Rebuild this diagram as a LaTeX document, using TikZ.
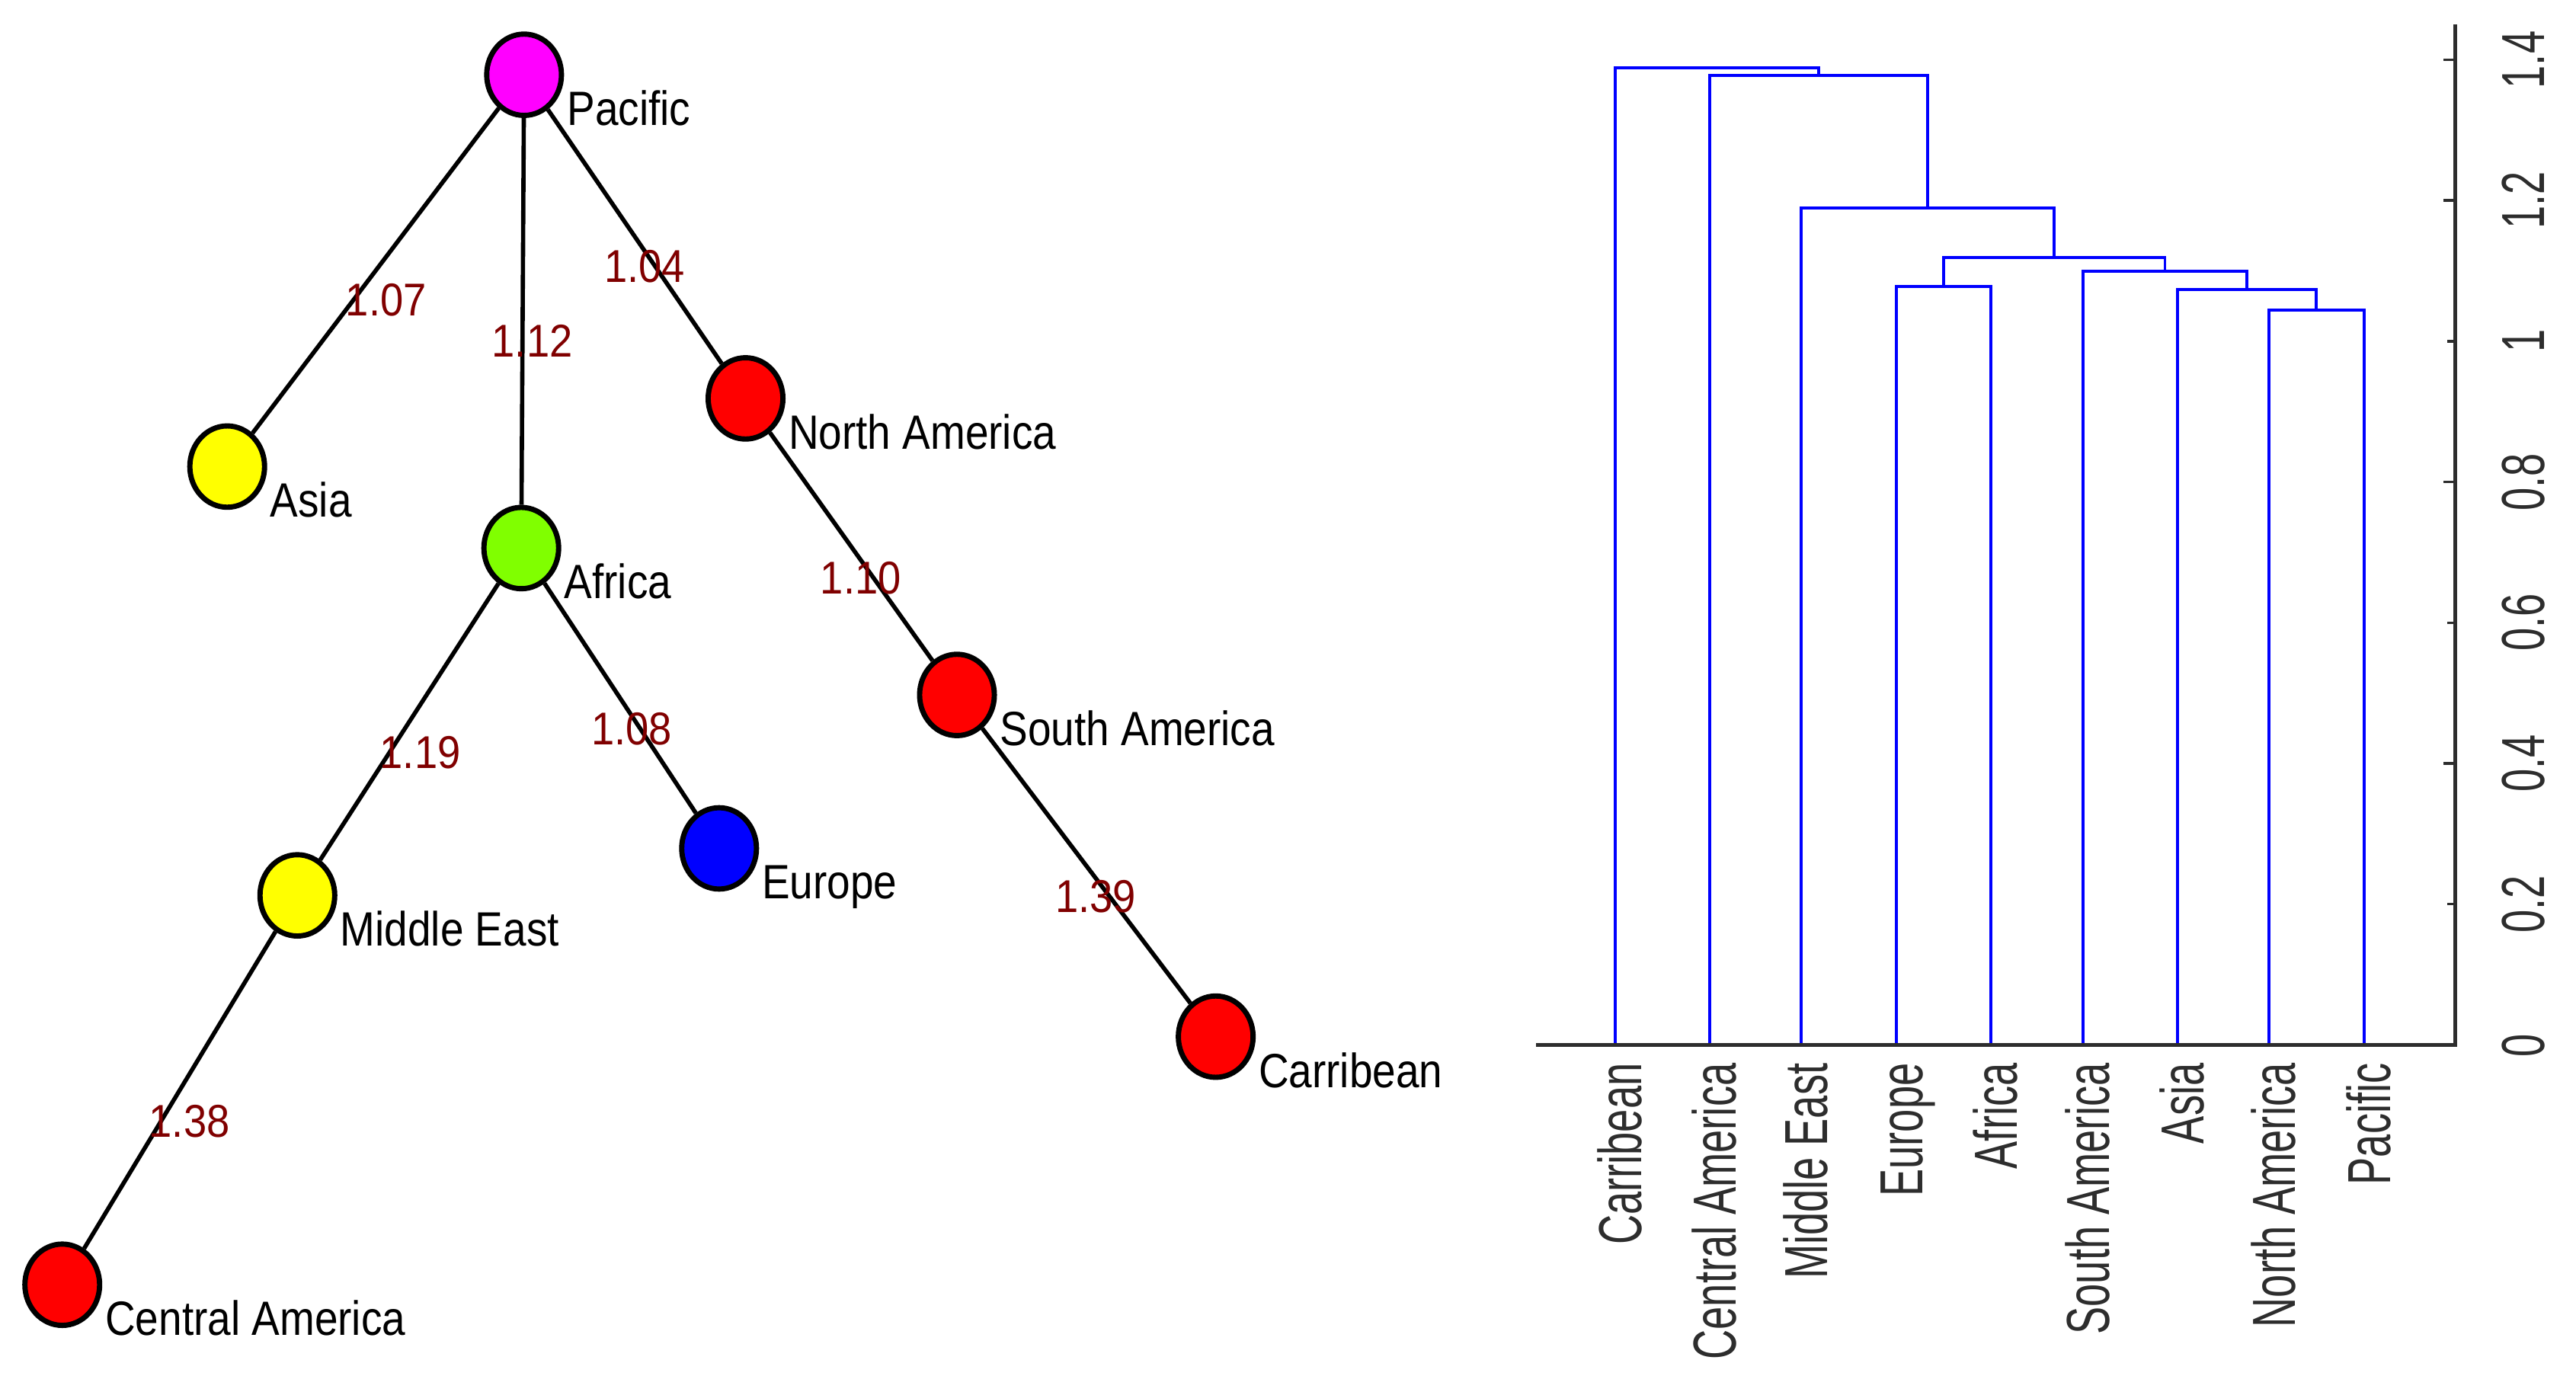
\documentclass[tikz,border=0pt]{standalone}
\usepackage{fontspec}
\setmainfont{Liberation Sans}
\newfontfamily\labfont[FakeStretch=0.87]{Liberation Sans}
\newfontfamily\numfont[FakeStretch=0.9]{Liberation Sans}
\newfontfamily\axfont[FakeStretch=0.68]{Liberation Sans}
\usetikzlibrary{shapes.geometric}
\definecolor{edgered}{RGB}{128,0,0}
\definecolor{axgray}{RGB}{45,45,45}
\definecolor{nmag}{RGB}{255,0,255}
\definecolor{nyel}{RGB}{255,255,0}
\definecolor{ngreen}{RGB}{128,255,0}
\definecolor{nred}{RGB}{255,0,0}
\definecolor{nblue}{RGB}{0,0,255}
\begin{document}
\begin{tikzpicture}[x=1pt,y=-1pt,
  region/.style={ellipse, draw=black, line width=3.2pt, minimum width=45.5pt, minimum height=49.5pt, inner sep=0pt},
  link/.style={draw=black, line width=2.6pt},
  lab/.style={font=\labfont\fontsize{29.3}{35}\selectfont, inner sep=0pt, anchor=base west, xshift=26pt, yshift=-30.8pt},
  wlab/.style={font=\numfont\fontsize{28}{33}\selectfont, text=edgered, inner sep=0pt},
  dend/.style={draw=nblue, line width=1.8pt},
  axline/.style={draw=axgray, line width=2pt},
  ticklong/.style={draw=axgray, line width=1.6pt},
  ticklab/.style={font=\axfont\fontsize{37}{40}\selectfont, text=axgray, rotate=90, anchor=base, inner sep=0pt},
  leaflab/.style={font=\axfont\fontsize{37}{40}\selectfont, text=axgray, rotate=90, anchor=base east, inner sep=0pt}]
\useasboundingbox (0,0) rectangle (1568,847);

% ---- left graph ----
\node[region, fill=nmag]   (pac)  at (319,45.5) {};
\node[region, fill=nyel]   (asia) at (138.3,284) {};
\node[region, fill=ngreen] (afr)  at (317.3,333.6) {};
\node[region, fill=nred]   (nam)  at (453.8,242.5) {};
\node[region, fill=nred]   (sam)  at (582.5,423) {};
\node[region, fill=nblue]  (eur)  at (437.7,516.4) {};
\node[region, fill=nyel]   (mde)  at (181,545) {};
\node[region, fill=nred]   (cam)  at (37.9,782) {};
\node[region, fill=nred]   (car)  at (740,631) {};

\draw[link] (pac) -- (asia);
\draw[link] (pac) -- (afr);
\draw[link] (pac) -- (nam);
\draw[link] (nam) -- (sam);
\draw[link] (sam) -- (car);
\draw[link] (afr) -- (mde);
\draw[link] (afr) -- (eur);
\draw[link] (mde) -- (cam);

\node[lab] (pacL)  at (pac)  {Pacific};
\node[lab] (asiaL) at (asia) {Asia};
\node[lab] (afrL)  at (afr)  {Africa};
\node[lab] (namL)  at (nam)  {North America};
\node[lab] (samL)  at (sam)  {South America};
\node[lab] (eurL)  at (eur)  {Europe};
\node[lab] (mdeL)  at (mde)  {Middle East};
\node[lab] (camL)  at (cam)  {Central America};
\node[lab] (carL)  at (car)  {Carribean};

\node[wlab] (w1) at (235,182.7) {1.07};
\node[wlab] (w2) at (324,207.5) {1.12};
\node[wlab] (w3) at (392.4,162) {1.04};
\node[wlab] (w4) at (523.9,352) {1.10};
\node[wlab] (w5) at (255.8,458) {1.19};
\node[wlab] (w6) at (384.5,443.8) {1.08};
\node[wlab] (w7) at (667,545.6) {1.39};
\node[wlab] (w8) at (115.3,682.7) {1.38};

% ---- dendrogram ----
\draw[dend] (1380.9,636) |- (1410,188.9) -| (1439,636);
\draw[dend] (1325.4,636) |- (1367.7,176.2) -| (1410,188.9);
\draw[dend] (1267.8,636) |- (1317.8,165) -| (1367.7,176.2);
\draw[dend] (1154.3,636) |- (1183.1,174.4) -| (1211.9,636);
\draw[dend] (1183.1,174.4) |- (1250.5,156.9) -| (1317.8,165);
\draw[dend] (1096.3,636) |- (1173.4,126.5) -| (1250.5,156.9);
\draw[dend] (1040.7,636) |- (1107,46.1) -| (1173.4,126.5);
\draw[dend] (983,636) |- (1045,41.4) -| (1107,46.1);

% axes
\draw[axline] (935,636) -- (1494.4,636) -- (1494.4,15);
\foreach \yy/\len in {36.4/7.3, 122/7.3, 207.7/5, 293.4/7.3, 379/5, 464.7/7.3, 550.3/5}
  \draw[ticklong] (1494.4,\yy) -- ++(-\len,0);

\node[ticklab] (t0)  at (1548.7,636.3) {0};
\node[ticklab] (t1)  at (1548.7,550.3) {0.2};
\node[ticklab] (t2)  at (1548.7,464.7) {0.4};
\node[ticklab] (t3)  at (1548.7,379) {0.6};
\node[ticklab] (t4)  at (1548.7,293.4) {0.8};
\node[ticklab] (t5)  at (1548.7,207.7) {1};
\node[ticklab] (t6)  at (1548.7,122) {1.2};
\node[ticklab] (t7)  at (1548.7,36.4) {1.4};

\node[leaflab] (l1) at (999,647) {Carribean};
\node[leaflab] (l2) at (1056.7,647) {Central America};
\node[leaflab] (l3) at (1112.3,647) {Middle East};
\node[leaflab] (l4) at (1170.3,647) {Europe};
\node[leaflab] (l5) at (1227.9,647) {Africa};
\node[leaflab] (l6) at (1283.8,647) {South America};
\node[leaflab] (l7) at (1341.4,647) {Asia};
\node[leaflab] (l8) at (1396.9,647) {North America};
\node[leaflab] (l9) at (1455,647) {Pacific};
\end{tikzpicture}
\end{document}
